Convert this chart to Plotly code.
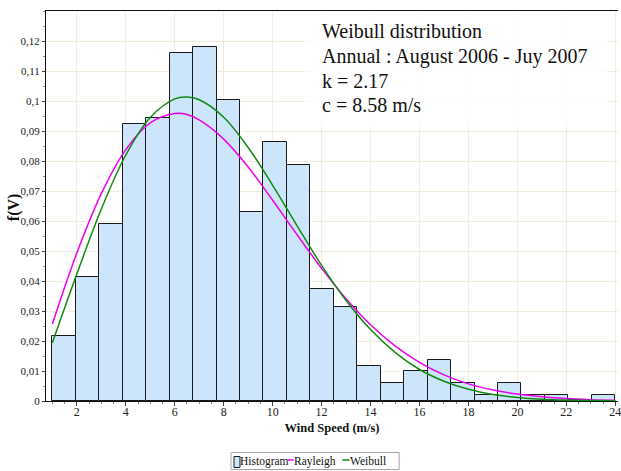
import numpy as np
import plotly.graph_objects as go

# ---- data ----
bin_start = 1.0
bin_end = 24.0
hist_values = [0.0217, 0.0412, 0.0589, 0.0924, 0.0944, 0.1159, 0.1179, 0.1003,
               0.0630, 0.0863, 0.0787, 0.0373, 0.0312, 0.0118, 0.0059, 0.0099,
               0.0137, 0.0059, 0.0020, 0.0059, 0.0020, 0.0020, 0.0005, 0.0020]

curve_x = [1, 2, 3, 4, 5, 6, 6.5, 7, 8, 9, 10, 11, 12, 13, 14, 15, 16, 17, 18,
           19, 20, 21, 22, 23, 24]
weibull_y = [0.0194, 0.0423, 0.0640, 0.0820, 0.0945, 0.1007, 0.1013, 0.1004,
             0.0946, 0.0845, 0.0719, 0.0584, 0.0452, 0.0335, 0.0238, 0.0162,
             0.0105, 0.0066, 0.0039, 0.0022, 0.0012, 0.0006, 0.0003, 0.00016,
             0.00007]
rayleigh_y = [0.0257, 0.0493, 0.0691, 0.0838, 0.0927, 0.0958, 0.0955, 0.0937,
              0.0873, 0.0780, 0.0669, 0.0554, 0.0442, 0.0341, 0.0254, 0.0184,
              0.0129, 0.0087, 0.0057, 0.0037, 0.0023, 0.0014, 0.0008, 0.00045,
              0.00025]

x_ticks = [2, 4, 6, 8, 10, 12, 14, 16, 18, 20, 22, 24]
y_ticks = [0, 0.01, 0.02, 0.03, 0.04, 0.05, 0.06, 0.07, 0.08, 0.09, 0.1, 0.11, 0.12]

info_lines = ["Weibull distribution", "Annual : August 2006 - Juy 2007",
              "k = 2.17", "c = 8.58 m/s"]
legend_names = ["Histogram", "Rayleigh", "Weibull"]
x_title = "Wind Speed (m/s)"
y_title = "f(V)"

BAR_FILL = "#cce5fb"
BAR_EDGE = "#1a1a1a"
RAY_COL = "#ee00ee"
WEI_COL = "#108a10"

n_bins = len(hist_values)
edges = np.linspace(bin_start, bin_end, n_bins + 1)
centers = (edges[:-1] + edges[1:]) / 2
width = edges[1] - edges[0]

SERIF = "Liberation Serif"

fig = go.Figure()
fig.add_trace(go.Bar(
    x=centers, y=hist_values, width=width, name=legend_names[0],
    marker=dict(color=BAR_FILL, line=dict(color=BAR_EDGE, width=1)),
))
fig.add_trace(go.Scatter(
    x=curve_x, y=rayleigh_y, mode="lines", name=legend_names[1],
    line=dict(color=RAY_COL, width=1.5, shape="spline"),
))
fig.add_trace(go.Scatter(
    x=curve_x, y=weibull_y, mode="lines", name=legend_names[2],
    line=dict(color=WEI_COL, width=1.5, shape="spline"),
))

L, R, T, B = 46, 621, 11, 401
def px(x):
    return (x - L) / (R - L)
def py(y):
    return (B - y) / (B - T)

# white info box
fig.add_shape(type="rect", xref="paper", yref="paper",
              x0=px(307), x1=px(610), y0=py(127), y1=1.0,
              fillcolor="rgba(255,255,255,0.85)", line=dict(width=0),
              layer="above")
for txt, yc in zip(info_lines, [31, 56, 80.5, 104.5]):
    fig.add_annotation(
        xref="paper", yref="paper", x=px(321), y=py(yc),
        xanchor="left", yanchor="middle", text=txt, showarrow=False,
        font=dict(family=SERIF, size=20, color="#111"),
    )

# y axis title
fig.add_annotation(
    xref="paper", yref="paper", x=px(14), y=py(207),
    xanchor="center", yanchor="middle", text="<b>" + y_title + "</b>",
    textangle=-90, showarrow=False,
    font=dict(family=SERIF, size=16, color="#111"),
)

# compact legend box (like the original)
fig.add_shape(type="rect", xref="paper", yref="paper",
              x0=px(232), x1=px(401), y0=py(469.5), y1=py(452.5),
              fillcolor="white", line=dict(color="#a8a8a0", width=1))
fig.add_shape(type="rect", xref="paper", yref="paper",
              x0=px(235), x1=px(241), y0=py(467.5), y1=py(456.5),
              fillcolor=BAR_FILL, line=dict(color=BAR_EDGE, width=1))
fig.add_shape(type="line", xref="paper", yref="paper",
              x0=px(289), x1=px(295), y0=py(460), y1=py(460),
              line=dict(color=RAY_COL, width=1.5))
fig.add_shape(type="line", xref="paper", yref="paper",
              x0=px(344), x1=px(351), y0=py(460), y1=py(460),
              line=dict(color=WEI_COL, width=1.5))
for txt, xl in zip(legend_names, [241.5, 295, 351.5]):
    fig.add_annotation(
        xref="paper", yref="paper", x=px(xl), y=py(461.5),
        xanchor="left", yanchor="middle", text=txt, showarrow=False,
        borderpad=0, borderwidth=0,
        font=dict(family=SERIF, size=11.5, color="#111"),
    )

fig.update_layout(
    width=621, height=471,
    margin=dict(l=L, r=621 - R, t=T, b=471 - B),
    paper_bgcolor="white", plot_bgcolor="white",
    separators=", ",
    bargap=0,
    font=dict(family=SERIF, size=11, color="#222"),
    showlegend=False,
)
fig.update_xaxes(
    range=[0.74, 24.11], tickvals=x_ticks,
    showgrid=True, gridcolor="#f1ecdc", gridwidth=1,
    showline=True, linecolor="#111", linewidth=1, mirror=True,
    ticks="outside", ticklen=4, tickcolor="#444",
    minor=dict(dtick=0.5, ticks="outside", ticklen=2, tickcolor="#888", showgrid=False),
    tickfont=dict(family=SERIF, size=12, color="#222"),
    ticklabeloverflow="allow", ticklabelstandoff=-4,
    title=dict(text="<b>" + x_title + "</b>", standoff=4,
               font=dict(family=SERIF, size=12.5, color="#111")),
    zeroline=False,
)
fig.update_yaxes(
    range=[0, 0.13], tickvals=y_ticks,
    showgrid=True, gridcolor="#f1ecdc", gridwidth=1,
    showline=True, linecolor="#111", linewidth=1,
    ticks="outside", ticklen=3, tickcolor="#444",
    minor=dict(dtick=0.005, ticks="outside", ticklen=2, tickcolor="#888", showgrid=False),
    tickfont=dict(family=SERIF, size=11, color="#222"),
    zeroline=False,
)

fig.write_html("out.html")
